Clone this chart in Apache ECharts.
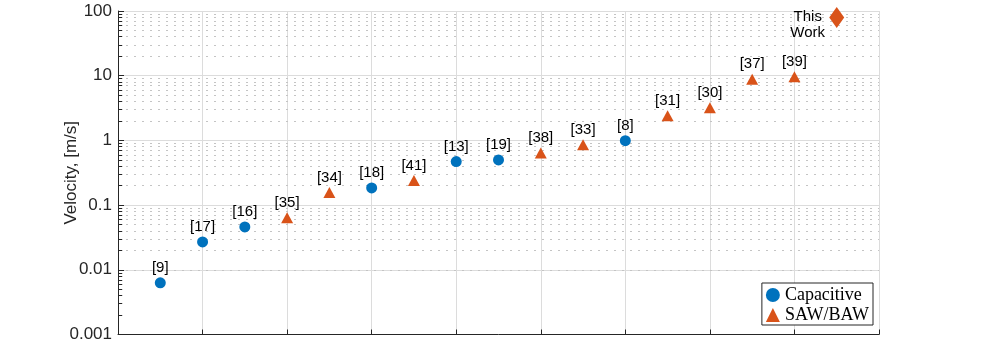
<!DOCTYPE html>
<html>
<head>
<meta charset="utf-8">
<script src="https://cdn.jsdelivr.net/npm/echarts@6/dist/echarts.min.js"></script>
<style>
html, body { margin: 0; padding: 0; background: #fff; }
#chart { width: 997px; height: 343px; }
</style>
</head>
<body>
<div id="chart"></div>
<script>
// reference labels, velocities [m/s] and device type, left to right
const refs = ['[9]', '[17]', '[16]', '[35]', '[34]', '[18]', '[41]', '[13]', '[19]',
    '[38]', '[33]', '[8]', '[31]', '[30]', '[37]', '[39]', 'This\nWork'];
const velocity = [0.0063, 0.027, 0.046, 0.064, 0.157, 0.184, 0.24, 0.47, 0.50,
    0.64, 0.86, 0.99, 2.4, 3.2, 8.8, 9.6, 79];
const kind = ['cap', 'cap', 'cap', 'saw', 'saw', 'cap', 'saw', 'cap', 'cap',
    'saw', 'saw', 'cap', 'saw', 'saw', 'saw', 'saw', 'this'];
const decades = [0.001, 0.01, 0.1, 1, 10];
const minorSteps = [2, 3, 4, 5, 6, 7, 8, 9];

const BLUE = '#0072BD';
const ORANGE = '#D95319';
const INK = '#262626';

function pointsOf(k) {
    const out = [];
    kind.forEach((t, i) => {
        if (t === k) out.push({ value: [i + 1, velocity[i]], ref: refs[i] });
    });
    return out;
}

// dotted minor grid + small ticks on the y axis (log 2..9)
const minorVals = [];
decades.forEach(d => minorSteps.forEach(m => minorVals.push(+(d * m).toPrecision(3))));

const refLabel = {
    show: true,
    position: 'top',
    distance: 2,
    formatter: p => p.data.ref,
    color: '#000',
    fontFamily: 'Liberation Sans',
    fontSize: 15
};

const chart = echarts.init(document.getElementById('chart'), null, { renderer: 'canvas' });

chart.setOption({
    backgroundColor: '#fff',
    animation: false,
    grid: { left: 118, right: 118, top: 11, bottom: 8 },
    legend: {
        orient: 'vertical',
        right: 124,
        top: 283,
        padding: [3, 4, 1, 4],
        itemWidth: 14,
        itemHeight: 14,
        itemGap: 2,
        backgroundColor: '#fff',
        borderColor: INK,
        borderWidth: 1,
        borderRadius: 0,
        textStyle: { fontFamily: 'Liberation Serif', fontSize: 18, color: '#000' },
        data: [
            { name: 'Capacitive', icon: 'circle' },
            { name: 'SAW/BAW', icon: 'triangle' }
        ]
    },
    xAxis: {
        type: 'value',
        min: 0,
        max: 18,
        interval: 2,
        axisLabel: { show: false },
        axisLine: { show: true, lineStyle: { color: INK, width: 1 } },
        axisTick: { show: true, inside: true, length: 5, lineStyle: { color: INK } },
        splitLine: { show: true, lineStyle: { color: '#dcdcdc', width: 1 } }
    },
    yAxis: {
        type: 'log',
        logBase: 10,
        min: 0.001,
        max: 100,
        splitNumber: 5,
        name: 'Velocity, [m/s]',
        nameLocation: 'middle',
        nameGap: 38,
        nameMoveOverlap: false,
        nameTextStyle: { fontFamily: 'Liberation Sans', fontSize: 17, color: INK },
        axisLabel: {
            margin: 6,
            fontFamily: 'Liberation Sans',
            fontSize: 17,
            color: INK,
            formatter: v => String(+(+v).toPrecision(3))
        },
        axisLine: { show: true, lineStyle: { color: INK, width: 1 } },
        axisTick: { show: true, inside: true, length: 6, lineStyle: { color: INK } },
        splitLine: { show: true, lineStyle: { color: '#dcdcdc', width: 1 } }
    },
    series: [
        {
            name: 'grid',
            type: 'scatter',
            z: 0,
            data: [],
            markLine: {
                z: 0,
                silent: true,
                symbol: 'none',
                label: { show: false },
                animation: false,
                data: minorVals.map(v => ({
                    yAxis: v,
                    lineStyle: { color: '#c4c4c4', type: [2, 6], width: 1 }
                })).concat(minorVals.map(v => [
                    { coord: [0, v], lineStyle: { color: INK, type: 'solid', width: 1 } },
                    { coord: [0.1, v] }
                ]))
            }
        },
        {
            name: 'Capacitive',
            type: 'scatter',
            z: 5,
            symbol: 'circle',
            symbolSize: 11,
            itemStyle: { color: BLUE, opacity: 1 },
            label: refLabel,
            data: pointsOf('cap')
        },
        {
            name: 'SAW/BAW',
            type: 'scatter',
            z: 5,
            symbol: 'triangle',
            symbolSize: [12, 11],
            itemStyle: { color: ORANGE, opacity: 1 },
            label: refLabel,
            data: pointsOf('saw')
        },
        {
            name: 'This Work',
            type: 'scatter',
            z: 5,
            symbol: 'diamond',
            symbolSize: [15, 21],
            itemStyle: { color: ORANGE, opacity: 1 },
            label: {
                show: true,
                position: 'inside',
                align: 'center',
                verticalAlign: 'middle',
                offset: [-29, 7],
                lineHeight: 16,
                formatter: p => p.data.ref,
                color: '#000',
                fontFamily: 'Liberation Sans',
                fontSize: 15
            },
            data: pointsOf('this')
        }
    ]
});
</script>
</body>
</html>
